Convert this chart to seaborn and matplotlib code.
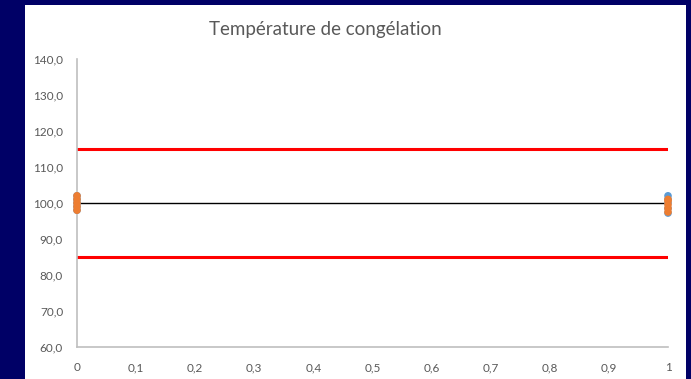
import matplotlib
matplotlib.use("Agg")
import matplotlib.pyplot as plt
import seaborn as sns
import pandas as pd
from matplotlib.patches import Rectangle

sns.set_theme(style="white")
plt.rcParams['font.family'] = ['Lato', 'DejaVu Sans']

title = "Température de congélation"
# Series 1 (blue) and Series 2 (orange) measurements
x_blue = [0, 0, 0, 0, 0, 1, 1, 1, 1, 1]
y_blue = [98.0, 99.0, 100.0, 101.0, 102.0, 97.2, 98.5, 100.0, 101.0, 102.0]
x_orange = [0, 0, 0, 0, 0, 1, 1, 1, 1, 1]
y_orange = [98.0, 99.0, 100.0, 101.0, 102.0, 97.5, 98.5, 99.5, 100.5, 101.0]
target_x = [0, 1]
target_y = [100.0, 100.0]
upper_y = [115.0, 115.0]
lower_y = [85.0, 85.0]
y_ticks = [60, 70, 80, 90, 100, 110, 120, 130, 140]
x_ticks = [0, 0.1, 0.2, 0.3, 0.4, 0.5, 0.6, 0.7, 0.8, 0.9, 1]

fig = plt.figure(figsize=(6.91, 3.79), dpi=100, facecolor="#000066")
fig.patches.append(Rectangle((25/691, 0), (686-25)/691, (379-5)/379,
                             transform=fig.transFigure, facecolor="white",
                             edgecolor="none", zorder=-10))
ax = fig.add_axes([77/691, 32/379, (668-77)/691, (347-59)/379])
ax.set_facecolor("none")

df_lim = pd.DataFrame({"x": target_x * 3,
                       "y": target_y + upper_y + lower_y,
                       "g": ["t", "t", "u", "u", "l", "l"]})
sns.lineplot(data=df_lim[df_lim.g == "u"], x="x", y="y", color="#FF0000", lw=2.2, ax=ax)
sns.lineplot(data=df_lim[df_lim.g == "l"], x="x", y="y", color="#FF0000", lw=2.2, ax=ax)
sns.lineplot(data=df_lim[df_lim.g == "t"], x="x", y="y", color="black", lw=1.0, ax=ax)

sns.scatterplot(x=x_blue, y=y_blue, color="#5B9BD5", s=30, edgecolor="none", ax=ax, zorder=3, clip_on=False)
sns.scatterplot(x=x_orange, y=y_orange, color="#ED7D31", s=30, edgecolor="none", ax=ax, zorder=4, clip_on=False)

ax.set_xlim(0, 1)
ax.set_ylim(60, 140)
ax.set_yticks(y_ticks)
ax.set_yticklabels([f"{v:.1f}".replace(".", ",") for v in y_ticks])
ax.set_xticks(x_ticks)
ax.set_xticklabels(["0"] + [f"{v:.1f}".replace(".", ",") for v in x_ticks[1:-1]] + ["1"])
ax.tick_params(axis="both", length=0, labelsize=8.5, labelcolor="#595959")
ax.tick_params(axis="y", pad=10)
ax.tick_params(axis="x", pad=11)
for s in ["top", "right"]:
    ax.spines[s].set_visible(False)
for s in ["left", "bottom"]:
    ax.spines[s].set_color("#BFBFBF")
    ax.spines[s].set_linewidth(1.2)
ax.set_xlabel("")
ax.set_ylabel("")
fig.text(325/691, 1 - 30/379, title, ha="center", va="center",
         fontsize=13.5, color="#595959")

fig.savefig("out.png", dpi=100, facecolor=fig.get_facecolor())
